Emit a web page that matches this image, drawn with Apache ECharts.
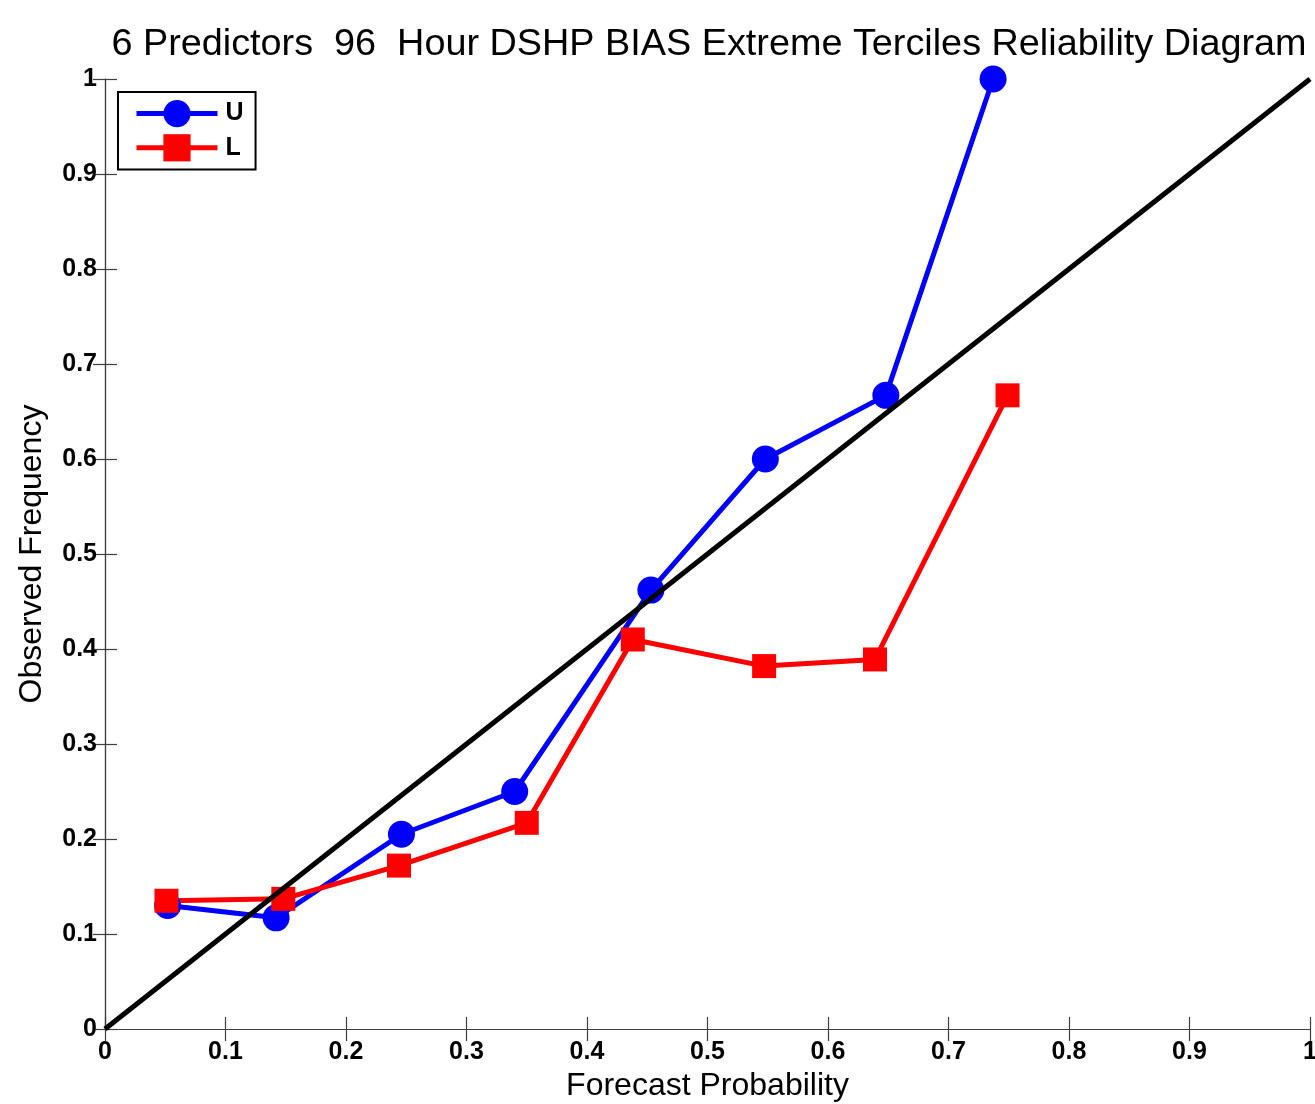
<!DOCTYPE html>
<html>
<head>
<meta charset="utf-8">
<script src="https://cdn.jsdelivr.net/npm/echarts@6/dist/echarts.min.js"></script>
<style>html,body{margin:0;padding:0;background:#fff;overflow:hidden}#c{width:1315px;height:1104px}</style>
</head>
<body>
<div id="c"></div>
<script>
const titleText = '6 Predictors  96  Hour DSHP BIAS Extreme Terciles Reliability Diagram';
const xName = 'Forecast Probability';
const yName = 'Observed Frequency';
const uX = [0.052, 0.142, 0.246, 0.340, 0.453, 0.548, 0.648, 0.737];
const uY = [0.130, 0.117, 0.205, 0.250, 0.462, 0.600, 0.667, 1.000];
const lX = [0.051, 0.148, 0.244, 0.350, 0.438, 0.547, 0.639, 0.749];
const lY = [0.135, 0.137, 0.172, 0.217, 0.410, 0.382, 0.389, 0.667];
const diagX = [0, 1];
const diagY = [0, 1];

const fmt = v => (Math.round(v * 10) / 10).toString();
const pair = (xs, ys) => xs.map((x, i) => [x, ys[i]]);
const font = 'Liberation Sans, Arial, sans-serif';
const axisCommon = () => ({
  type: 'value', min: 0, max: 1, interval: 0.1,
  splitLine: { show: false },
  axisLine: { show: true, lineStyle: { color: '#404040', width: 1.2 } },
  axisTick: { show: true, inside: true, length: 12, lineStyle: { color: '#404040', width: 1.2 } }
});
const chart = echarts.init(document.getElementById('c'));
chart.setOption({
  backgroundColor: '#fff',
  animation: false,
  title: {
    text: titleText, left: 704, top: 21, textAlign: 'center',
    textStyle: { fontFamily: font, fontSize: 37.8, fontWeight: 'normal', color: '#000' }
  },
  grid: { left: 105, right: 5, top: 79, bottom: 75, containLabel: false, outerBoundsMode: 'none' },
  legend: {
    left: 118, top: 92, orient: 'vertical',
    data: ['U', 'L'],
    itemWidth: 81, itemHeight: 34, itemGap: 7,
    padding: [8, 12, 8, 16],
    borderColor: '#000', borderWidth: 2, borderRadius: 0, backgroundColor: '#fff',
    lineStyle: { width: 5 },
    textStyle: { fontFamily: font, fontSize: 25, fontWeight: 'bold', color: '#000', padding: [0, 0, 0, 3] }
  },
  xAxis: [
    Object.assign(axisCommon(), {
      position: 'bottom', name: xName, nameLocation: 'middle', nameGap: 40,
      nameTextStyle: { fontFamily: font, fontSize: 32, color: '#000' },
      axisLabel: { formatter: fmt, fontFamily: font, fontSize: 25, fontWeight: 'bold', color: '#000', margin: 11 }
    }),
    Object.assign(axisCommon(), { position: 'top', axisLabel: { show: false } })
  ],
  yAxis: [
    Object.assign(axisCommon(), {
      position: 'left', name: yName, nameLocation: 'middle', nameGap: 57,
      nameTextStyle: { fontFamily: font, fontSize: 32, color: '#000' },
      axisLabel: { formatter: fmt, fontFamily: font, fontSize: 25, fontWeight: 'bold', color: '#000', margin: 8 }
    }),
    Object.assign(axisCommon(), { position: 'right', axisLabel: { show: false } })
  ],
  series: [
    {
      name: 'U', type: 'line', data: pair(uX, uY),
      symbol: 'circle', symbolSize: 27,
      lineStyle: { color: '#0000ff', width: 5 }, itemStyle: { color: '#0000ff' }
    },
    {
      name: 'L', type: 'line', data: pair(lX, lY),
      symbol: 'rect', symbolSize: 24,
      lineStyle: { color: '#ff0000', width: 5 }, itemStyle: { color: '#ff0000' }
    },
    {
      name: 'diag', type: 'line', data: pair(diagX, diagY), symbol: 'none',
      lineStyle: { color: '#000', width: 5 }, z: 5
    }
  ]
});
</script>
</body>
</html>
